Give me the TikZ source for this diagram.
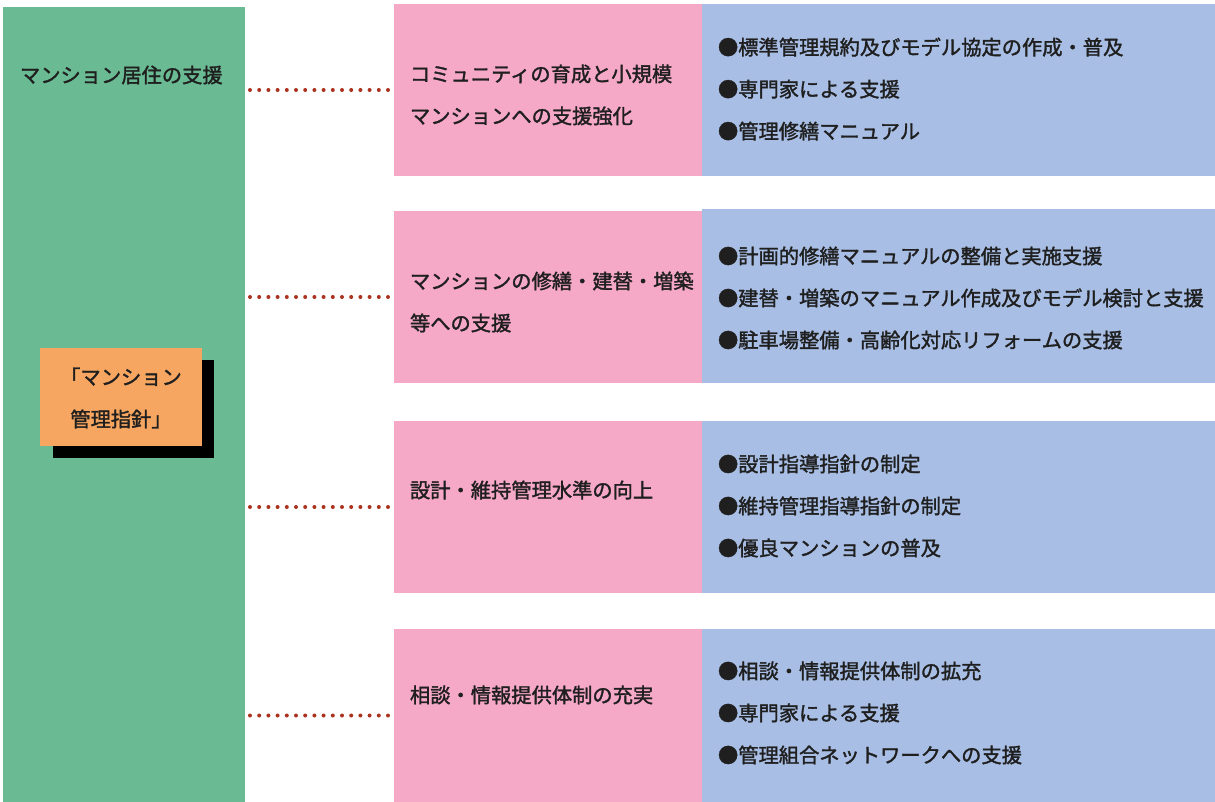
\documentclass[tikz,border=0pt]{standalone}
\usepackage{fontspec}
\setmainfont{Noto Sans CJK JP}[FakeBold=1.6]
\begin{document}
\begin{tikzpicture}[x=0.75pt,y=-0.75pt,
  every node/.style={font=\fontsize{15.2pt}{31.5pt}\selectfont, inner sep=0pt, outer sep=0pt},
  box/.style={draw=none, anchor=north west, rectangle},
  txt/.style={anchor=west, align=left, text=black!88},
  dotline/.style={draw={rgb,255:red,170;green,50;blue,30}, line width=3pt, line cap=round, dash pattern=on 0pt off 6.9pt}
]
\definecolor{grn}{RGB}{106,187,147}
\definecolor{org}{RGB}{246,166,96}
\definecolor{pnk}{RGB}{246,168,199}
\definecolor{blu}{RGB}{168,190,228}
\useasboundingbox (0,0) rectangle (1215,802);
\fill[white] (0,0) rectangle (1215,802);

% green column
\node[box, fill=grn, minimum width=242*0.75pt, minimum height=795*0.75pt] (green) at (3,7) {};
\node[txt] (glab) at (20,75) {マンション居住の支援};

% shadow and orange box
\fill[black] (53,360) rectangle (214,458);
\node[box, fill=org, minimum width=162*0.75pt, minimum height=98*0.75pt] (org) at (40,348) {};
\node[align=center, text=black!88] (orgt) at (121,398) {「マンション\\管理指針」};

% pink boxes
\node[box, fill=pnk, minimum width=308*0.75pt, minimum height=172*0.75pt] (p1) at (394,4) {};
\node[box, fill=pnk, minimum width=308*0.75pt, minimum height=172*0.75pt] (p2) at (394,211) {};
\node[box, fill=pnk, minimum width=308*0.75pt, minimum height=172*0.75pt] (p3) at (394,421) {};
\node[box, fill=pnk, minimum width=308*0.75pt, minimum height=173*0.75pt] (p4) at (394,629) {};

% blue boxes
\node[box, fill=blu, minimum width=513*0.75pt, minimum height=172*0.75pt] (b1) at (702,4) {};
\node[box, fill=blu, minimum width=513*0.75pt, minimum height=174*0.75pt] (b2) at (702,209) {};
\node[box, fill=blu, minimum width=513*0.75pt, minimum height=172*0.75pt] (b3) at (702,421) {};
\node[box, fill=blu, minimum width=513*0.75pt, minimum height=173*0.75pt] (b4) at (702,629) {};

% pink texts
\node[txt] (pt1) at (410,95) {コミュニティの育成と小規模\\マンションへの支援強化};
\node[txt] (pt2) at (410,302) {マンションの修繕・建替・増築\\等への支援};
\node[txt] (pt3) at (410,490) {設計・維持管理水準の向上};
\node[txt] (pt4) at (410,695) {相談・情報提供体制の充実};

% blue texts
\node[txt] (bt1) at (718,89) {●標準管理規約及びモデル協定の作成・普及\\●専門家による支援\\●管理修繕マニュアル};
\node[txt] (bt2) at (718,298) {●計画的修繕マニュアルの整備と実施支援\\●建替・増築のマニュアル作成及びモデル検討と支援\\●駐車場整備・高齢化対応リフォームの支援};
\node[txt] (bt3) at (718,506) {●設計指導指針の制定\\●維持管理指導指針の制定\\●優良マンションの普及};
\node[txt] (bt4) at (718,713) {●相談・情報提供体制の拡充\\●専門家による支援\\●管理組合ネットワークへの支援};

% dotted connectors
\draw[dotline] (green.east |- p1.west) ++(5,0) -- ([xshift=-1pt]p1.west);
\draw[dotline] (green.east |- p2.west) ++(5,0) -- ([xshift=-1pt]p2.west);
\draw[dotline] (green.east |- p3.west) ++(5,0) -- ([xshift=-1pt]p3.west);
\draw[dotline] (green.east |- p4.west) ++(5,0) -- ([xshift=-1pt]p4.west);
\end{tikzpicture}
\end{document}
